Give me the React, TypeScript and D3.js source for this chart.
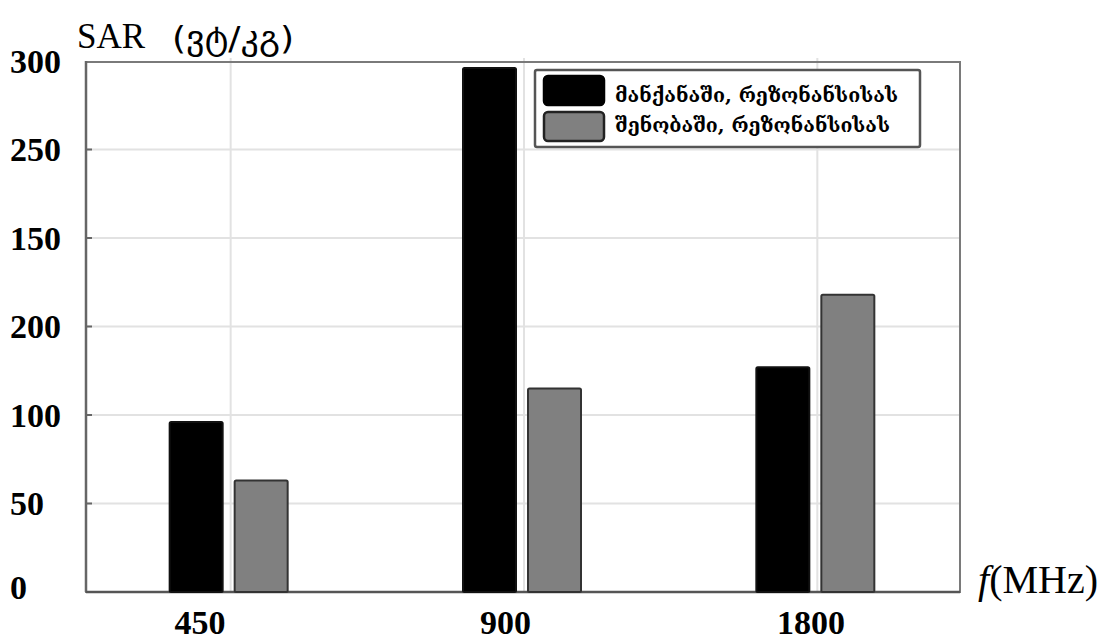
import React from "react";
import * as d3 from "d3";

const categories = ["450", "900", "1800"];
const carValues = [96, 296, 127];
const buildingValues = [63, 115, 168];
const yTickValues = [0, 50, 100, 150, 200, 250, 300];
const yTickLabels = ["0", "50", "100", "200", "150", "250", "300"];
const seriesNames = ["მანქანაში, რეზონანსისას", "შენობაში, რეზონანსისას"];
const yTitle = "SAR";
const yUnit = "(ვტ/კგ)";
const xTitleItalic = "f";
const xTitleRest = "(MHz)";

const W = 1112;
const H = 640;
const left = 86;
const right = 960;
const top = 61;
const bottom = 592;

export default function App() {
  const x = d3.scaleBand<string>().domain(categories).range([left, right + 6]);
  const xLabel = d3.scalePoint<string>().domain(categories).range([200, 811]);
  const y = d3.scaleLinear().domain([0, 300]).range([bottom, top]);
  const barW = 53;
  const gap = 6;
  const series = [
    { name: seriesNames[0], values: carValues, fill: "#000000", stroke: "#111" },
    { name: seriesNames[1], values: buildingValues, fill: "#808080", stroke: "#333" },
  ];
  const serif = "'Liberation Serif', 'Times New Roman', serif";
  return (
    <svg
      width={W}
      height={H}
      style={{ position: "absolute", left: 0, top: 0, background: "#fff" }}
    >
      {/* gridlines */}
      {yTickValues.slice(1, -1).map((v) => (
        <line key={"gy" + v} x1={left} x2={right} y1={y(v)} y2={y(v)} stroke="#e2e2e2" strokeWidth={2} />
      ))}
      {categories.map((c) => (
        <line
          key={"gx" + c}
          x1={x(c)! + x.bandwidth() / 2 - 2}
          x2={x(c)! + x.bandwidth() / 2 - 2}
          y1={top - 3}
          y2={bottom}
          stroke="#e2e2e2"
          strokeWidth={2}
        />
      ))}
      {/* frame */}
      <rect x={left} y={top + 1} width={right - left} height={bottom - top - 1} fill="none" stroke="#7a7a7a" strokeWidth={2} />
      <line x1={left} x2={left} y1={top} y2={bottom} stroke="#666" strokeWidth={2.5} />
      <line x1={left} x2={right} y1={bottom} y2={bottom} stroke="#555" strokeWidth={2.5} />
      {/* y ticks */}
      {yTickValues.slice(1, -1).map((v) => (
        <line key={"ty" + v} x1={left} x2={left + 6} y1={y(v)} y2={y(v)} stroke="#666" strokeWidth={2} />
      ))}
      {/* bars */}
      {series.map((s, si) =>
        categories.map((c, ci) => {
          const cx = x(c)! + x.bandwidth() / 2 - 4;
          const bx = si === 0 ? cx - gap - barW : cx + gap;
          return (
            <rect
              key={s.name + c}
              x={bx}
              y={y(s.values[ci])}
              width={barW}
              height={bottom - y(s.values[ci])}
              fill={s.fill}
              stroke={s.stroke}
              strokeWidth={2}
              rx={1.5}
            />
          );
        })
      )}
      {/* y tick labels */}
      {yTickValues.map((v, i) => (
        <text
          key={"yl" + v}
          x={10}
          y={y(v) - (v === 0 ? 5 : 0)}
          dominantBaseline="central"
          fontFamily={serif}
          fontWeight="bold"
          fontSize={34}
          fill="#000"
        >
          {yTickLabels[i]}
        </text>
      ))}
      {/* x tick labels */}
      {categories.map((c) => (
        <text
          key={"xl" + c}
          x={xLabel(c)}
          y={634}
          textAnchor="middle"
          fontFamily={serif}
          fontWeight="bold"
          fontSize={34}
          fill="#000"
        >
          {c}
        </text>
      ))}
      {/* y title */}
      <text x={77} y={48} fontFamily={serif} fontSize={35} fill="#000">
        {yTitle}
      </text>
      <text x={172} y={49} fontFamily="'DejaVu Sans', sans-serif" fontSize={32} fill="#000" textLength={122} lengthAdjust="spacingAndGlyphs">
        {yUnit}
      </text>
      {/* x title */}
      <text x={978} y={593} fontFamily={serif} fontSize={40} fill="#000">
        <tspan fontStyle="italic">{xTitleItalic}</tspan>
        <tspan>{xTitleRest}</tspan>
      </text>
      {/* legend */}
      <rect x={535} y={70} width={385} height={77} fill="#fff" stroke="#555" strokeWidth={2.5} rx={2} />
      {series.map((s, i) => (
        <g key={"lg" + i}>
          <rect
            x={544}
            y={76 + i * 36}
            width={60}
            height={29}
            fill={s.fill}
            stroke={i === 0 ? "#000" : "#222"}
            strokeWidth={2.5}
            rx={4}
          />
          <text
            x={615}
            y={102 + i * 30}
            fontFamily="'DejaVu Serif', 'DejaVu Sans', serif"
            fontWeight="bold"
            fontSize={19}
            fill="#000"
            textLength={i === 0 ? 283 : 275}
            lengthAdjust="spacingAndGlyphs"
          >
            {s.name}
          </text>
        </g>
      ))}
    </svg>
  );
}
